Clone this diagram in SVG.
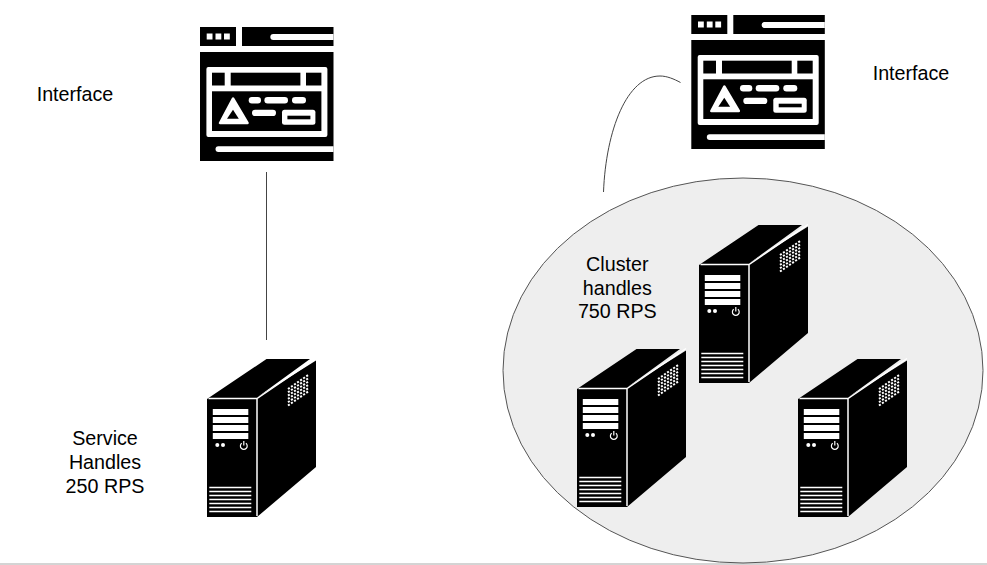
<svg xmlns="http://www.w3.org/2000/svg" width="987" height="565" viewBox="0 0 987 565">
<style>
.k{fill:#000}
.w{fill:#fff}
.ws{fill:none;stroke:#fff}
.wire{fill:none;stroke:#444;stroke-width:1}
.lbl{font-family:"Liberation Sans",Arial,sans-serif;font-size:19.7px;fill:#000;text-anchor:middle}
.v{fill:none;stroke:#fff;stroke-width:2;stroke-dasharray:2.1 1.6}
</style>
<defs>
<g id="iface">
<rect class="k" x="200" y="27" width="36" height="19"/>
<rect class="w" x="206.700" y="33.500" width="5.800" height="6"/><rect class="w" x="215.500" y="33.500" width="5.800" height="6"/><rect class="w" x="224" y="33.500" width="5.800" height="6"/>
<rect class="k" x="242" y="27" width="91.500" height="19"/>
<path class="w" d="M273.300 34H333.500V40H273.300a3 3 0 0 1 0-6z"/>
<rect class="k" x="200" y="52" width="133.500" height="109"/>
<rect class="w" x="206.400" y="67" width="121" height="70" rx="2"/>
<rect class="k" x="212" y="72.700" width="12.700" height="12.800"/><rect class="k" x="230.700" y="72.700" width="69.700" height="12.800"/><rect class="k" x="306" y="72.700" width="15.400" height="12.800"/>
<rect class="k" x="212" y="91.300" width="109.400" height="39.700"/>
<path class="w" d="M233 98.500L220 123H247.500z" stroke="#fff" stroke-width="2.500" stroke-linejoin="round"/>
<path class="k" d="M233 109.700L227 118.700H238.800z"/>
<rect class="w" x="248.700" y="97" width="12.300" height="6.500" rx="3.200"/><rect class="w" x="264.400" y="97" width="23.600" height="6.500" rx="3.200"/><rect class="w" x="292" y="97" width="14" height="6.500" rx="3.200"/><rect class="w" x="252" y="109.700" width="24" height="6.300" rx="3.100"/>
<rect class="w" x="282" y="109.700" width="33.400" height="15" rx="2.500"/><rect class="k" x="287.400" y="115.700" width="23" height="3.600"/>
<path class="w" d="M218.400 146.200H333.500V152H218.400a2.900 2.900 0 0 1 0-5.800z"/>
</g>
<g id="server">
<path class="k" d="M207 399L266.500 359H310L257 397.500L316 360.500V467L257 517H207z"/>
<path class="ws" stroke-width="1.500" d="M208.500 398.500H257L316 358.500M257 398.500V516"/>
<g class="w"><rect x="212.800" y="409" width="35.500" height="6"/><rect x="212.800" y="417" width="35.500" height="6"/><rect x="212.800" y="425" width="35.500" height="6"/><rect x="212.800" y="433" width="35.500" height="6"/>
<circle cx="217.300" cy="445" r="2"/><circle cx="223" cy="445" r="2"/></g>
<path class="ws" stroke-width="1.200" d="M241.700 443.300a3.400 3.400 0 1 0 4.200 0M243.800 441V445.500"/>
<path class="ws" stroke-width="1.600" d="M209.300 487.500H251.300M209.300 491.500H251.300M209.300 495.500H251.300M209.300 499.500H251.300M209.300 503.500H251.300M209.300 507.500H251.300M209.300 511.500H251.300"/>
<path class="v" d="M288 389L309 374.500M288 392.300L309 377.800M288 395.600L309 381.100M288 398.900L309 384.400M288 402.200L309 387.700M288 405.500L309 391"/>
</g>
</defs>
<rect width="987" height="565" fill="#fff"/>
<g id="page-rule"><rect x="0" y="563" width="987" height="2" fill="#d4d4d4"/></g>
<g id="cluster"><ellipse cx="743" cy="370.500" rx="240" ry="192.500" fill="#eee" stroke="#555" stroke-width="1"/></g>
<g id="connectors">
<path class="wire" d="M266.500 172V340"/>
<path class="wire" d="M603.500 192C606 130 627 76 660 76C667 76 674 79 680.500 82.500"/>
</g>
<g id="interface-left"><use href="#iface"/></g>
<g id="interface-right"><use href="#iface" transform="translate(491.300 -12)"/></g>
<g id="service"><use href="#server"/></g>
<g id="cluster-server-top"><use href="#server" transform="translate(492 -134)"/></g>
<g id="cluster-server-left"><use href="#server" transform="translate(370 -10)"/></g>
<g id="cluster-server-right"><use href="#server" transform="translate(591 0)"/></g>
<g id="label-interface-left"><text class="lbl" x="75" y="101">Interface</text></g>
<g id="label-interface-right"><text class="lbl" x="911" y="80">Interface</text></g>
<g id="label-service"><text class="lbl" x="105" y="445">Service</text><text class="lbl" x="105" y="469">Handles</text><text class="lbl" x="105" y="493">250 RPS</text></g>
<g id="label-cluster"><text class="lbl" x="617.300" y="271">Cluster</text><text class="lbl" x="617.300" y="295">handles</text><text class="lbl" x="617.300" y="318">750 RPS</text></g>
</svg>
